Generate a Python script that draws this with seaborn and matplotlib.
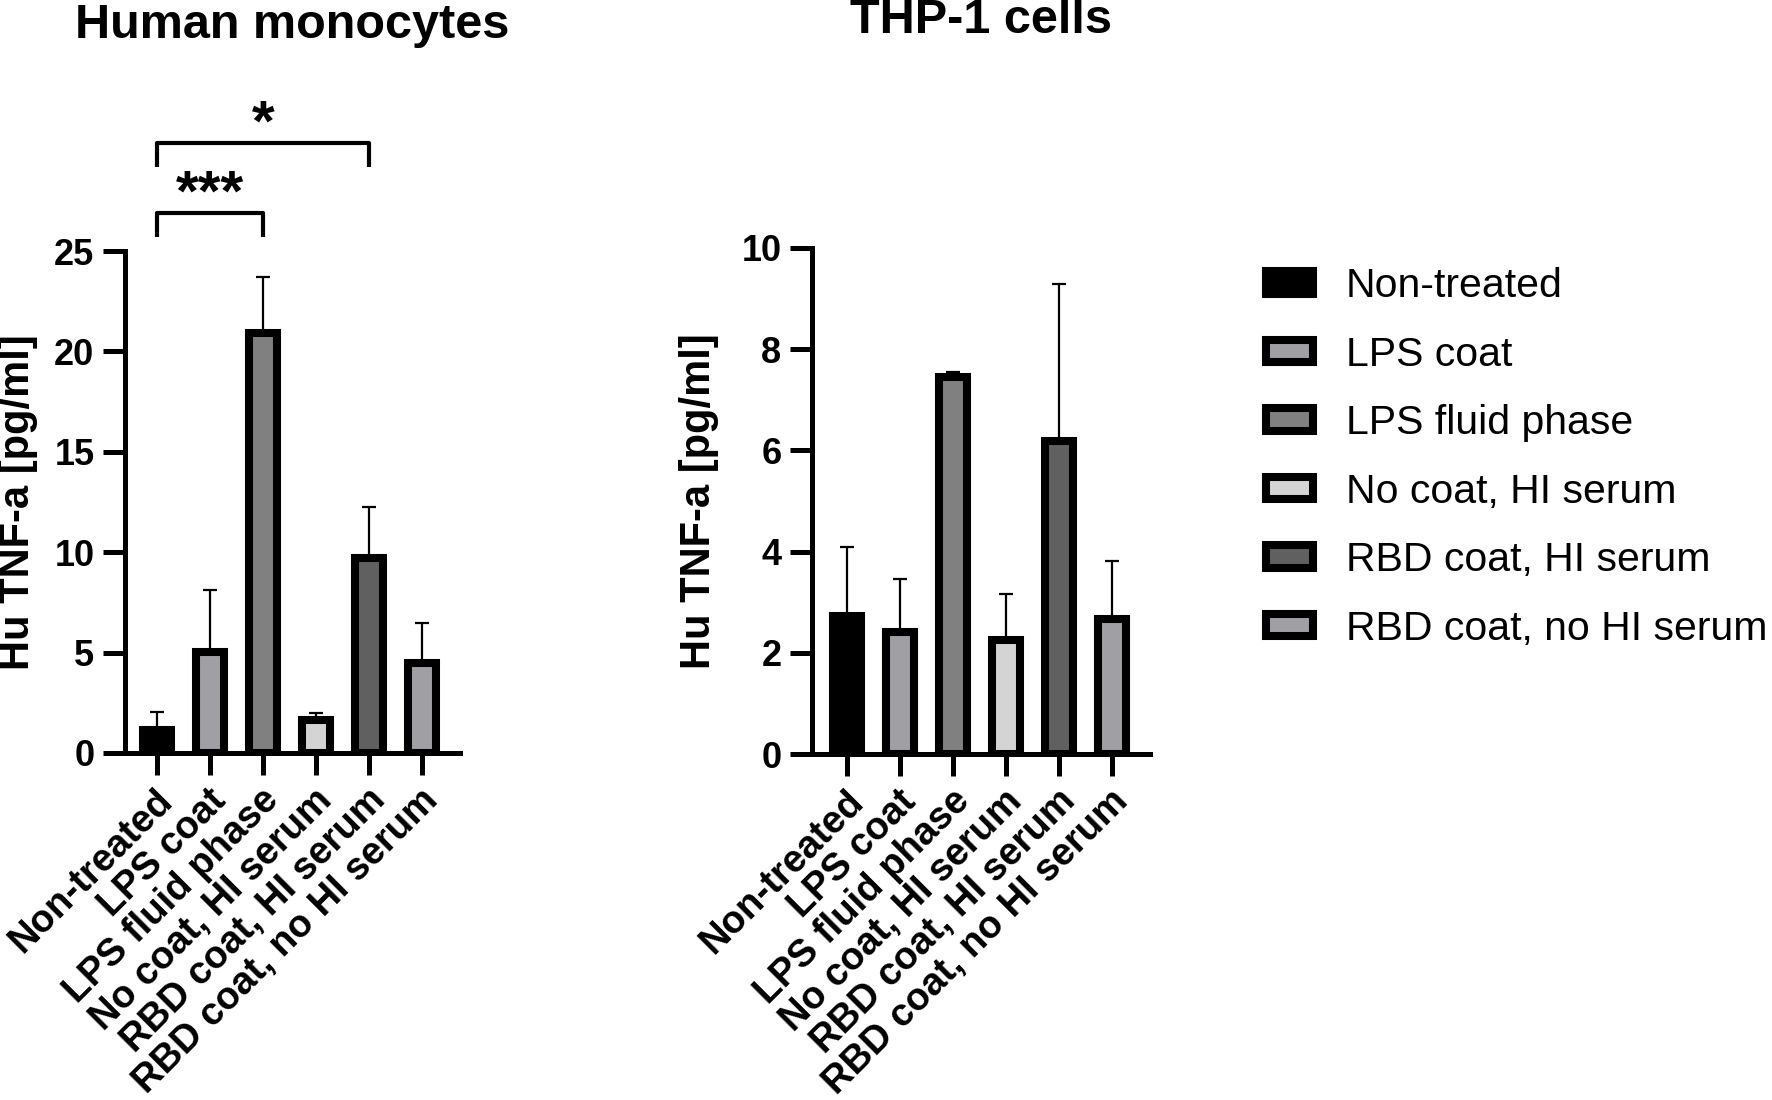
import matplotlib
matplotlib.use("Agg")
import matplotlib.pyplot as plt
import matplotlib.transforms as mtransforms
from matplotlib.patches import Patch
import seaborn as sns

# groups (same order in both panels)
categories = ["Non-treated", "LPS coat", "LPS fluid phase",
              "No coat, HI serum", "RBD coat, HI serum", "RBD coat, no HI serum"]
bar_colors = ["#000000", "#a0a0a4", "#808080", "#d4d4d4", "#606060", "#a0a0a4"]

# Human monocytes: mean and upper error (pg/ml)
mono_mean = [1.15, 5.05, 20.9, 1.62, 9.7, 4.46]
mono_err = [0.88, 3.07, 2.8, 0.37, 2.55, 2.01]

# THP-1 cells: mean and upper error (pg/ml)
thp_mean = [2.73, 2.41, 7.46, 2.25, 6.19, 2.66]
thp_err = [1.37, 1.05, 0.09, 0.91, 3.09, 1.16]

# significance brackets on the monocyte panel
sig_from = [0, 0]
sig_to = [2, 4]
sig_text = ["***", "*"]
sig_y = [26.9, 30.4]

sns.set_theme(style="ticks")
plt.rcParams["font.family"] = ["Liberation Sans", "DejaVu Sans"]
for key in ["text.color", "axes.labelcolor", "xtick.color", "ytick.color", "axes.edgecolor"]:
    plt.rcParams[key] = "black"

fig = plt.figure(figsize=(17.72, 11.0), dpi=100)
ax1 = fig.add_axes([125 / 1772, 1 - 753 / 1100, 335 / 1772, 502 / 1100])
ax2 = fig.add_axes([812 / 1772, 1 - 754 / 1100, 338 / 1772, 506 / 1100])


def draw_panel(ax, means, errs, title, ymax, step, xlim):
    sns.barplot(x=categories, y=means, hue=categories, palette=bar_colors,
                order=categories, hue_order=categories, width=0.52,
                edgecolor="black", linewidth=5.8, errorbar=None, legend=False, ax=ax)
    ax.errorbar(range(len(means)), means, yerr=[[0] * len(errs), errs],
                fmt="none", ecolor="black", elinewidth=1.6, capsize=5,
                capthick=1.6, zorder=3)
    ax.set_ylim(0, ymax)
    ax.set_xlim(*xlim)
    ax.set_yticks(range(0, ymax + 1, step))
    for s in ["top", "right"]:
        ax.spines[s].set_visible(False)
    for s in ["left", "bottom"]:
        ax.spines[s].set_linewidth(3.6)
    ax.tick_params(axis="both", direction="out", length=16, width=3.6, color="black")
    ax.tick_params(axis="y", labelsize=26, pad=6)
    ax.tick_params(axis="x", pad=5)
    for lab in ax.get_yticklabels():
        lab.set_fontweight("bold")
    ax.set_xticks(range(len(categories)))
    ax.set_xticklabels(categories, rotation=45, ha="right", va="top",
                       rotation_mode="anchor", fontsize=27.5, fontweight="bold")
    offset = mtransforms.ScaledTranslation(-2 / 100, 0, fig.dpi_scale_trans)
    for lab in ax.get_xticklabels():
        lab.set_transform(lab.get_transform() + offset)
    ax.set_xlabel("")
    ax.set_ylabel("Hu TNF-a [pg/ml]", fontsize=30, fontweight="bold")
    ax.set_title(title, fontsize=35, fontweight="bold", y=1.424, pad=0)


draw_panel(ax1, mono_mean, mono_err, "Human monocytes", 25, 5, (-0.6, 5.72))
draw_panel(ax2, thp_mean, thp_err, "THP-1 cells", 10, 2, (-0.66, 5.72))
ax1.yaxis.set_label_coords(-(125 - 38) / 335, 0.5)
ax2.yaxis.set_label_coords(-(812 - 719) / 338, 0.5)

# significance brackets
for a, b, txt, yb in zip(sig_from, sig_to, sig_text, sig_y):
    ax1.plot([a, a, b, b], [yb - 1.2, yb, yb, yb - 1.2], color="black",
             lw=3, clip_on=False, solid_capstyle="butt")
    ax1.text((a + b) / 2, yb + 0.1, txt, ha="center", va="baseline",
             fontsize=42, fontweight="bold", clip_on=False)

# legend
handles = [Patch(facecolor=c, edgecolor="black", linewidth=5.8, label=l)
           for c, l in zip(bar_colors, categories)]
fig.legend(handles=handles, loc="upper left", bbox_to_anchor=(1266 / 1772, 1 - 267 / 1100),
           frameon=False, fontsize=29.5, handlelength=1.15, handleheight=0.48,
           handletextpad=0.8, labelspacing=0.745, borderaxespad=0, borderpad=0)

fig.savefig("out.png", dpi=100, facecolor="white")
